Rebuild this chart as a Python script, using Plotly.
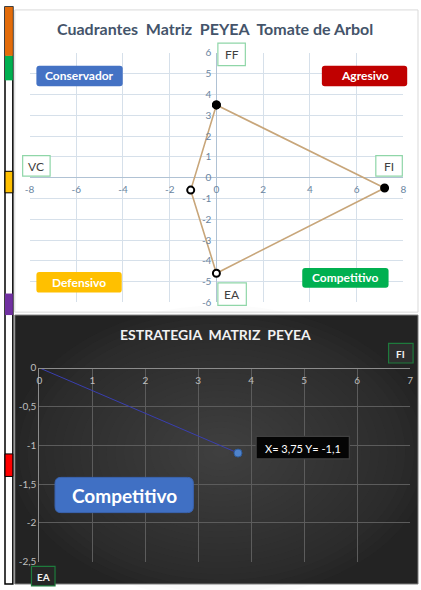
import plotly.graph_objects as go

W, H = 421, 590

# ---------------- data ----------------
peyea_x = [0, 7.2, 0, -1.1, 0]
peyea_y = [3.5, -0.5, -4.6, -0.6, 3.5]
peyea_fill = ["black", "black", "white", "white", "black"]

strat_x = [0, 3.75]
strat_y = [0, -1.1]
strat_label = "X= 3,75 Y= -1,1"

top_title = "Cuadrantes  Matriz  PEYEA  Tomate de Arbol"
bottom_title = "ESTRATEGIA  MATRIZ  PEYEA"

x1_ticks = [-8, -6, -4, -2, 0, 2, 4, 6, 8]
x1_ticktext = ["-8", "-6", "-4", "-2", "0", "2", "4", "6", "8"]
y1_ticks = [6, 5, 4, 3, 2, 1, 0, -1, -2, -3, -4, -5, -6]
y1_ticktext = ["6", "5", "4", "3", "2", "1", "0", "-1", "-2", "-3", "-4", "-5", "-6"]
y2_ticks = [0, -0.5, -1, -1.5, -2, -2.5]
y2_ticktext = ["0", "-0,5", "-1", "-1,5", "-2", "-2,5"]


def px(x):
    return x / W


def py(y):
    return 1 - y / H


FONT = "Lato"

fig = go.Figure()

# top polygon
fig.add_trace(go.Scatter(
    x=peyea_x, y=peyea_y, mode="lines+markers",
    line=dict(color="#C8A67A", width=1.6),
    marker=dict(size=7, color=peyea_fill, line=dict(color="black", width=2)),
    xaxis="x", yaxis="y", showlegend=False, hoverinfo="skip"))

# bottom strategy vector
fig.add_trace(go.Scatter(
    x=strat_x, y=strat_y, mode="lines",
    line=dict(color="#3A3FB0", width=1),
    xaxis="x2", yaxis="y2", showlegend=False, hoverinfo="skip"))
fig.add_trace(go.Scatter(
    x=strat_x[1:], y=strat_y[1:], mode="markers",
    marker=dict(size=8, color="#4F83CC", line=dict(color="#2E5C9E", width=1)),
    xaxis="x2", yaxis="y2", showlegend=False, hoverinfo="skip"))

shapes = []
annotations = []


def rect(x0, y0, x1, y1, fill, line=None, lw=1, layer="below", opacity=1):
    shapes.append(dict(type="rect", xref="paper", yref="paper",
                       x0=px(x0), x1=px(x1), y0=py(y1), y1=py(y0),
                       fillcolor=fill, opacity=opacity,
                       line=dict(color=line or "rgba(0,0,0,0)", width=lw if line else 0),
                       layer=layer))


def rrect(x0, y0, x1, y1, r, fill, line=None, layer="above"):
    rx, ry = r / W, r / H
    X0, X1, Y0, Y1 = px(x0), px(x1), py(y1), py(y0)
    path = (f"M {X0+rx},{Y1} L {X1-rx},{Y1} Q {X1},{Y1} {X1},{Y1-ry} "
            f"L {X1},{Y0+ry} Q {X1},{Y0} {X1-rx},{Y0} L {X0+rx},{Y0} "
            f"Q {X0},{Y0} {X0},{Y0+ry} L {X0},{Y1-ry} Q {X0},{Y1} {X0+rx},{Y1} Z")
    shapes.append(dict(type="path", xref="paper", yref="paper", path=path,
                       fillcolor=fill, line=dict(color=line or "rgba(0,0,0,0)", width=1 if line else 0),
                       layer=layer))


def text(x, y, t, size, color, bold=True, xanchor="center"):
    annotations.append(dict(x=px(x), y=py(y), xref="paper", yref="paper", text=(f"<b>{t}</b>" if bold else t),
                            showarrow=False, xanchor=xanchor, yanchor="middle",
                            font=dict(family=FONT, size=size, color=color)))


# ---------- left strip ----------
rect(0, 0, 8, 590, "white", "black", 1.5)
rect(0, 0, 8, 50, "#E36C0A")
rect(0, 50, 8, 75, "#00B050")
rect(0, 168, 8, 190, "#FFC000", "black", 1)
rect(0, 293, 8, 315, "#7030A0")
rect(0, 457, 8, 480, "#FF0000", "black", 1)

# ---------- top card ----------
rect(10, 3, 421, 312, "white", "#D9D9D9", 1)

# ---------- bottom dark card with radial glow ----------
rect(10, 315, 421, 590, "#232323", "#7F7F7F", 1)
cx, cy = 220, 455
N = 24
for i in range(N):
    f = 1 - i / N
    rx, ry = 215 * f, 150 * f
    shapes.append(dict(type="circle", xref="paper", yref="paper",
                       x0=px(cx - rx), x1=px(cx + rx), y0=py(cy + ry), y1=py(cy - ry),
                       fillcolor="#8A8A8A", opacity=0.022, line=dict(width=0), layer="below"))

# ---------- top chart labels ----------
text(214, 22, top_title, 16, "#44546A")

def box(x0, y0, x1, y1, t, border, bg, fc, size=11, bold=False):
    rect(x0, y0, x1, y1, bg, border, 1.2, layer="above")
    text((x0 + x1) / 2, (y0 + y1) / 2 + 0.5, t, size, fc, bold)

box(217, 37, 245, 60, "FF", "#8FD6A8", "white", "#404040", 12)
box(18, 152, 46, 173, "VC", "#8FD6A8", "white", "#404040", 12)
box(378, 152, 405, 173, "FI", "#8FD6A8", "white", "#404040", 12)
box(217, 282, 246, 305, "EA", "#8FD6A8", "white", "#404040", 12)

rrect(32, 60, 120, 81, 3, "#4472C4")
text(76, 70.5, "Conservador", 12, "white")
rrect(323, 60, 410, 81, 3, "#C00000")
text(366.5, 70.5, "Agresivo", 12, "white")
rrect(32, 271, 119, 292, 3, "#FFC000")
text(75.5, 281.5, "Defensivo", 12, "white")
rrect(303, 267, 391, 287, 3, "#00B050")
text(347, 277, "Competitivo", 12, "white")

# ---------- bottom chart labels ----------
text(215, 335, bottom_title, 14, "#F2F2F2")
box(391, 344, 416, 364, "FI", "#1E7A3C", "#2E2E2E", "#F2F2F2", 10, True)
box(27, 572, 51, 592, "EA", "#1E7A3C", "#262626", "#F2F2F2", 10, True)
box(256, 439, 351, 462, strat_label, "#404040", "#050505", "#FFFFFF", 11, False)
rrect(51, 481, 192, 517, 6, "#4070C4", "#3A64B0")
text(121.5, 499, "Competitivo", 19, "white")

fig.update_layout(
    width=W, height=H, margin=dict(l=0, r=0, t=0, b=0),
    paper_bgcolor="white", plot_bgcolor="rgba(0,0,0,0)",
    separators=",.",
    shapes=shapes, annotations=annotations,
    xaxis=dict(domain=[px(25), px(406)], range=[-8, 8],
               tickvals=x1_ticks, ticktext=x1_ticktext,
               anchor="free", position=py(175), ticklabelstandoff=4,
               showgrid=True, gridcolor="#D6E0EA", gridwidth=1,
               zeroline=True, zerolinecolor="#B0C2D4", zerolinewidth=1,
               showline=False, ticks="", fixedrange=True,
               tickfont=dict(family=FONT, size=10, color="#6A84A0")),
    yaxis=dict(domain=[py(302), py(47)], range=[-6, 6],
               tickvals=y1_ticks, ticktext=y1_ticktext,
               anchor="free", position=px(215.5), ticklabelstandoff=5,
               showgrid=True, gridcolor="#D6E0EA", gridwidth=1,
               zeroline=True, zerolinecolor="#B0C2D4", zerolinewidth=1,
               showline=False, ticks="", fixedrange=True,
               tickfont=dict(family=FONT, size=10, color="#6A84A0")),
    xaxis2=dict(domain=[px(35), px(413)], range=[0, 7], dtick=1,
                anchor="free", position=py(369), ticklabelstandoff=3,
                showgrid=True, gridcolor="#5C5C5C", gridwidth=1,
                zeroline=False, showline=True, linecolor="#8C8C8C", linewidth=1,
                ticks="", fixedrange=True,
                tickfont=dict(family=FONT, size=10, color="#BFBFBF")),
    yaxis2=dict(domain=[py(567), py(369)], range=[-2.5, 0],
                tickvals=y2_ticks, ticktext=y2_ticktext, anchor="x2",
                showgrid=True, gridcolor="#5C5C5C", gridwidth=1,
                zeroline=False, showline=True, linecolor="#8C8C8C", linewidth=1,
                ticks="", fixedrange=True,
                tickfont=dict(family=FONT, size=10, color="#BFBFBF")),
)

fig.write_html(
    "out.html",
    config={"displayModeBar": False},
    post_script="document.body.style.margin='0';document.body.style.padding='0';document.body.style.overflow='hidden';",
)
